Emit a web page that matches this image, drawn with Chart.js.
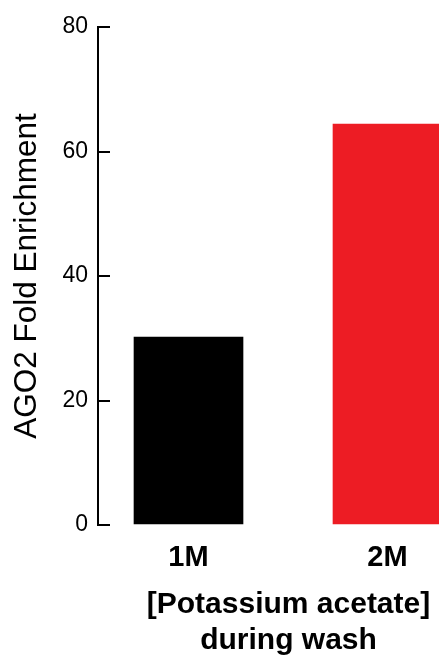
<!DOCTYPE html>
<html>
<head>
<meta charset="utf-8">
<script src="https://cdn.jsdelivr.net/npm/chart.js@4"></script>
<style>
  body { margin: 0; background: #fff; }
  #wrap { width: 439px; height: 660px; position: relative; overflow: hidden; }
  #inner { width: 479px; height: 660px; position: relative; }
</style>
</head>
<body>
<div id="wrap"><div id="inner"><canvas id="chart"></canvas></div></div>
<script>
const categories = ['1M', '2M'];
const enrichment = [30.2, 64.4];
const barColors = ['#000000', '#ED1C24'];
const yTicks = [0, 20, 40, 60, 80];

const font = 'Liberation Sans, Arial, Helvetica, sans-serif';

// the plot runs past the right edge of the page, the red bar is cut off there
const ctx = document.getElementById('chart').getContext('2d');
new Chart(ctx, {
    type: 'bar',
    data: {
        datasets: [{
            data: enrichment.map((v, i) => ({ x: i + 1, y: v })),
            backgroundColor: barColors,
            borderWidth: 0,
            barThickness: 109
        }]
    },
    options: {
        responsive: true,
        maintainAspectRatio: false,
        animation: false,
        layout: { padding: { top: 27, right: 0, bottom: 0, left: 0 } },
        plugins: {
            legend: { display: false },
            tooltip: { enabled: false }
        },
        scales: {
            x: {
                type: 'linear',
                offset: false,
                min: 0.5452,
                max: 2.4598,
                grid: { display: false, drawTicks: false },
                border: { display: false },
                afterBuildTicks: (scale) => {
                    scale.ticks = categories.map((c, i) => ({ value: i + 1 }));
                },
                afterFit: (scale) => { scale.height = 135; },
                ticks: {
                    autoSkip: false,
                    maxRotation: 0,
                    padding: 16,
                    color: '#000',
                    font: { family: font, size: 29, weight: 'bold' },
                    callback: (value) => categories[value - 1]
                },
                title: {
                    display: true,
                    text: ['[Potassium acetate]', 'during wash'],
                    color: '#000',
                    font: { family: font, size: 30, weight: 'bold', lineHeight: 36 / 30 },
                    padding: { top: 0, bottom: 1 }
                }
            },
            y: {
                min: 0,
                max: 80,
                afterBuildTicks: (scale) => {
                    scale.ticks = yTicks.map(v => ({ value: v }));
                },
                afterFit: (scale) => {
                    scale.width = 98;
                    // tick padding would otherwise push the plot top down
                    scale.paddingTop = 0;
                    scale.paddingBottom = 0;
                },
                grid: {
                    drawOnChartArea: false,
                    drawTicks: true,
                    tickLength: -12,
                    color: '#000',
                    lineWidth: 2
                },
                border: { display: true, color: '#000', width: 2 },
                ticks: {
                    padding: 22,
                    color: '#000',
                    font: { family: font, size: 23 }
                },
                title: {
                    display: true,
                    text: 'AGO2 Fold Enrichment',
                    color: '#000',
                    font: { family: font, size: 31.5 },
                    padding: { top: 8, bottom: 0 }
                }
            }
        }
    }
});
</script>
</body>
</html>
